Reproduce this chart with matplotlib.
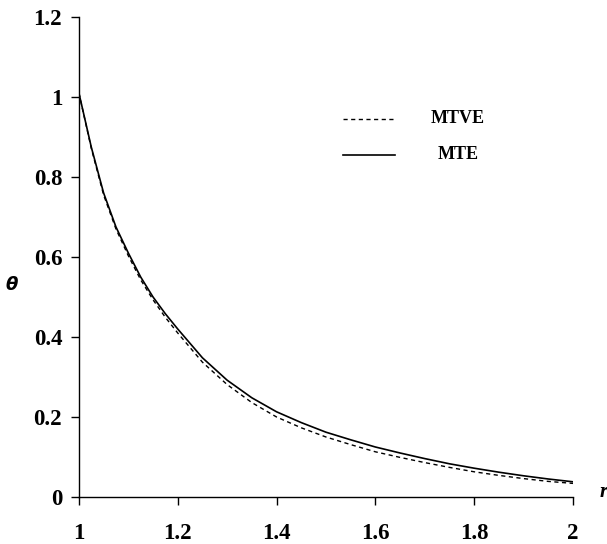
import numpy as np
import matplotlib
matplotlib.use("Agg")
import matplotlib.pyplot as plt

plt.rcParams['font.family'] = ['Liberation Serif', 'DejaVu Serif']

# values
r = [1.00, 1.025, 1.05, 1.075, 1.10, 1.125, 1.15, 1.175, 1.20, 1.25, 1.30, 1.35,
     1.40, 1.45, 1.50, 1.55, 1.60, 1.65, 1.70, 1.75, 1.80, 1.85, 1.90, 1.95, 2.00]
theta_mte = [1.01, 0.875, 0.76, 0.675, 0.61, 0.55, 0.50, 0.458, 0.42, 0.348, 0.292,
             0.248, 0.213, 0.186, 0.162, 0.143, 0.125, 0.11, 0.096, 0.083, 0.072,
             0.062, 0.053, 0.045, 0.038]
theta_mtve = [1.01, 0.872, 0.755, 0.67, 0.603, 0.543, 0.493, 0.449, 0.41, 0.337, 0.281,
              0.236, 0.2, 0.173, 0.15, 0.131, 0.113, 0.099, 0.086, 0.074, 0.063,
              0.054, 0.046, 0.039, 0.034]
xticks = [1, 1.2, 1.4, 1.6, 1.8, 2]
xtick_labels = ['1', '1.2', '1.4', '1.6', '1.8', '2']
yticks = [0, 0.2, 0.4, 0.6, 0.8, 1.0, 1.2]
ytick_labels = ['0', '0.2', '0.4', '0.6', '0.8', '1', '1.2']

fig = plt.figure(figsize=(6.07, 5.44), dpi=100)
ax = fig.add_axes([0.130, 0.0864, 0.814, 0.8824])

ax.plot(r, theta_mtve, color='black', lw=1.0, dashes=(3, 2.5))
ax.plot(r, theta_mte, color='black', lw=1.2)

ax.set_xlim(1, 2)
ax.set_ylim(0, 1.2)
ax.set_xticks(xticks)
ax.set_xticklabels(xtick_labels)
ax.set_yticks(yticks)
ax.set_yticklabels(ytick_labels)

for s in ['top', 'right']:
    ax.spines[s].set_visible(False)
for s in ['left', 'bottom']:
    ax.spines[s].set_linewidth(1.0)

ax.tick_params(axis='both', direction='out', length=6, width=1.0, labelsize=16.5)
ax.tick_params(axis='y', pad=6)
ax.tick_params(axis='x', pad=13)
for lab in ax.get_xticklabels() + ax.get_yticklabels():
    lab.set_fontweight('bold')

# legend drawn by hand
ax.plot([0.534, 0.640], [0.7875, 0.7875], transform=ax.transAxes,
        color='black', lw=1.0, dashes=(3, 2.5))
ax.plot([0.534, 0.640], [0.7125, 0.7125], transform=ax.transAxes,
        color='black', lw=1.2)
ax.text(0.767, 0.7875, 'MTVE', transform=ax.transAxes, ha='center', va='center',
        fontsize=13, fontweight='bold')
ax.text(0.767, 0.7125, 'MTE', transform=ax.transAxes, ha='center', va='center',
        fontsize=13, fontweight='bold')

# axis labels
fig.text(12 / 607, 1 - 285 / 544, r'$\boldsymbol{\theta}$', ha='center', va='center',
         fontsize=13, fontweight='bold', style='italic')
fig.text(604 / 607, 1 - 492 / 544, 'r', ha='center', va='center',
         fontsize=15, fontweight='bold', style='italic')

fig.savefig('out.png', dpi=100)
